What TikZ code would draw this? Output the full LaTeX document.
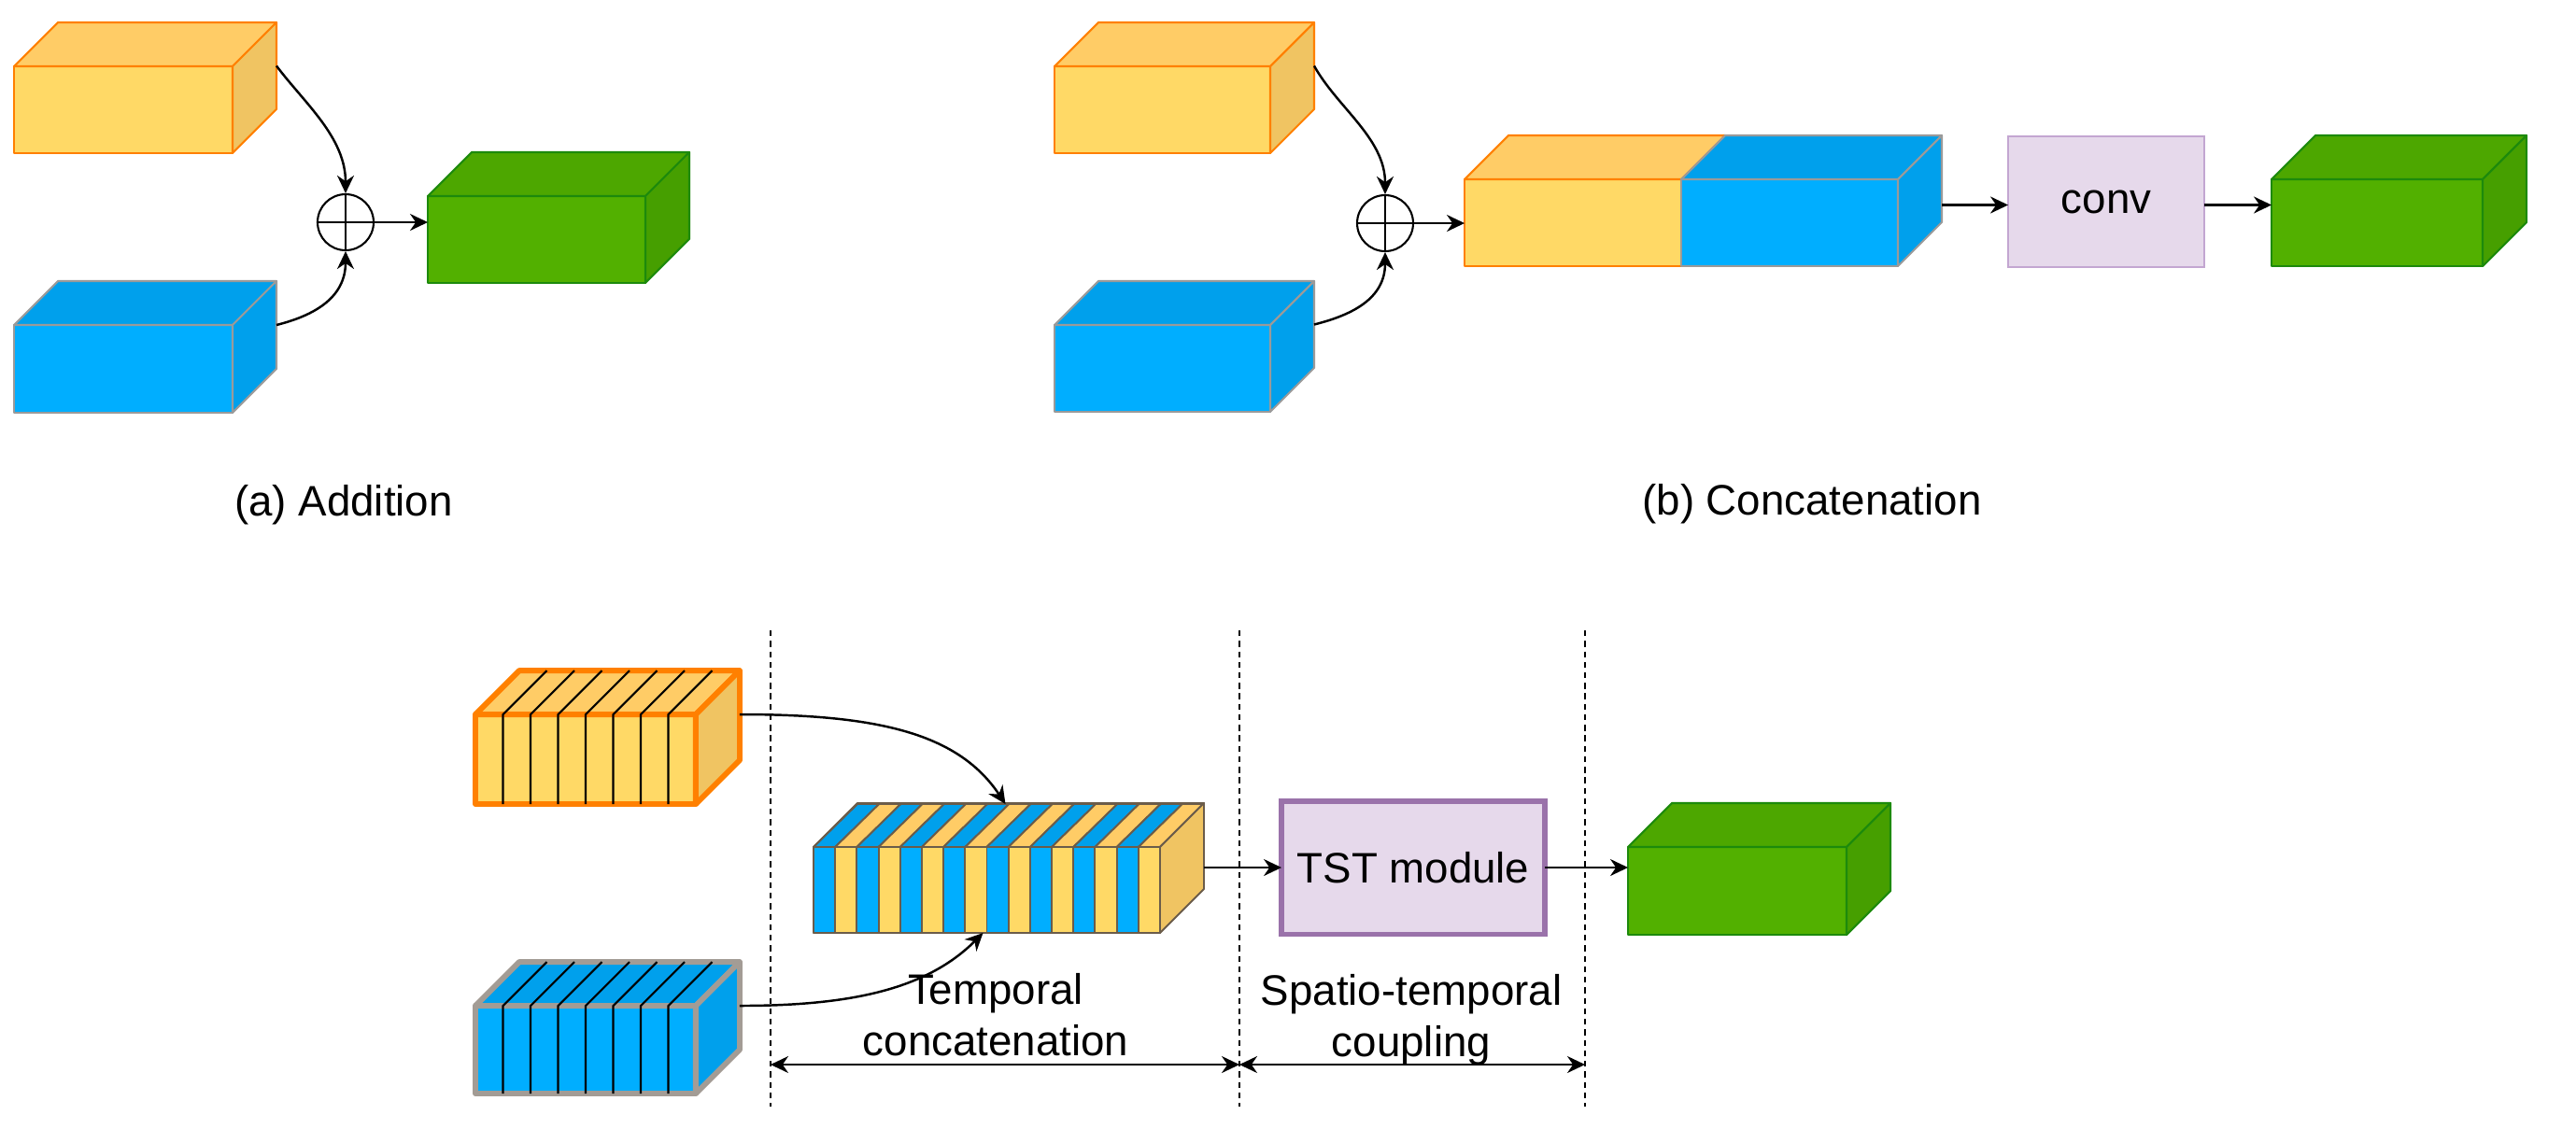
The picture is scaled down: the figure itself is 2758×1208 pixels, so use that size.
\documentclass[tikz,border=0pt]{standalone}
\usepackage{fontspec}
\setmainfont{Liberation Sans}
\usetikzlibrary{arrows.meta, positioning}
\definecolor{OrangeFront}{HTML}{FFD966}
\definecolor{OrangeTop}{HTML}{FFCC66}
\definecolor{OrangeSide}{HTML}{F0C462}
\definecolor{OrangeLine}{HTML}{FF8000}
\definecolor{BlueFront}{HTML}{00AEFF}
\definecolor{BlueTop}{HTML}{00A0EC}
\definecolor{BlueLine}{HTML}{9A9A9A}
\definecolor{GrayLine}{HTML}{A39C95}
\definecolor{GreenFront}{HTML}{52B000}
\definecolor{GreenTop}{HTML}{4DA700}
\definecolor{GreenSide}{HTML}{469F00}
\definecolor{GreenLine}{HTML}{1D8A0C}
\definecolor{PurpleFill}{HTML}{E6D9EB}
\definecolor{PurpleLight}{HTML}{C3A6D1}
\definecolor{PurpleLine}{HTML}{9A72AA}
\definecolor{MixLine}{HTML}{6B5C4A}
\tikzset{x=0.02cm, y=-0.02cm, >={Stealth[length=3.8mm, width=3.6mm]},
	facefront/.style={rectangle, inner sep=0pt, outer sep=0pt},
	orange edge/.style={draw=OrangeLine, line width=1.2pt, line join=round},
	blue edge/.style={draw=BlueLine, line width=1.2pt, line join=round},
	green edge/.style={draw=GreenLine, line width=1.2pt, line join=round},
	mix edge/.style={draw=MixLine, line width=1.1pt, line join=round},
	thick orange edge/.style={draw=OrangeLine, line width=3.4pt, line join=round},
	thick gray edge/.style={draw=GrayLine, line width=3.4pt, line join=round},
	textnode/.style={font=\fontsize{26}{31.3}\selectfont, align=center, inner sep=0pt}}
\newcommand{\cubetop}[3]{\draw[#3, fill=#2] (#1.north west) -- ++(47,-47) -- ([shift={(47,-47)}]#1.north east) -- (#1.north east) -- cycle;}
\newcommand{\cubeside}[3]{\draw[#3, fill=#2] (#1.north east) -- ++(47,-47) -- ([shift={(47,-47)}]#1.south east) -- (#1.south east) -- cycle;}

\begin{document}
\begin{tikzpicture}[link/.style={->, line width=1.4pt}, sep/.style={line width=1.2pt, dash pattern=on 3.6pt off 2.8pt}, stripe/.style={line width=1.2pt}]
	\useasboundingbox (0,0) rectangle (2758,1208);

	\node[facefront, orange edge, fill=OrangeFront, minimum width=4.68cm, minimum height=1.86cm] (OrangeA) at (132,117.5) {};
	\cubetop{OrangeA}{OrangeTop}{orange edge}
	\cubeside{OrangeA}{OrangeSide}{orange edge}
	\node[facefront, blue edge, fill=BlueFront, minimum width=4.68cm, minimum height=1.88cm] (BlueA) at (132,395) {};
	\cubetop{BlueA}{BlueTop}{blue edge}
	\cubeside{BlueA}{BlueTop}{blue edge}
	\node[circle, draw, line width=1.2pt, minimum size=1.2cm, inner sep=0pt] (SumA) at (370,238) {};
	\draw[line width=1.2pt] (SumA.north) -- (SumA.south) (SumA.west) -- (SumA.east);
	\node[facefront, green edge, fill=GreenFront, minimum width=4.66cm, minimum height=1.86cm] (GreenA) at (574.5,256.5) {};
	\cubetop{GreenA}{GreenTop}{green edge}
	\cubeside{GreenA}{GreenSide}{green edge}
	\draw[link] ([shift={(47,-47)}]OrangeA.east) .. controls +(30,40) and +(0,-60) .. (SumA.north);
	\draw[link] ([shift={(47,-47)}]BlueA.east) .. controls +(40,-10) and +(0,50) .. (SumA.south);
	\draw[link] (SumA.east) -- (SumA.east -| GreenA.west);
	\node[textnode, anchor=base] (CaptionA) at (368,552) {(a) Addition};

	\node[facefront, orange edge, fill=OrangeFront, minimum width=4.62cm, minimum height=1.86cm] (OrangeB) at (1244.5,117.5) {};
	\cubetop{OrangeB}{OrangeTop}{orange edge}
	\cubeside{OrangeB}{OrangeSide}{orange edge}
	\node[facefront, blue edge, fill=BlueFront, minimum width=4.62cm, minimum height=1.86cm] (BlueB) at (1244.5,394.5) {};
	\cubetop{BlueB}{BlueTop}{blue edge}
	\cubeside{BlueB}{BlueTop}{blue edge}
	\node[circle, draw, line width=1.2pt, minimum size=1.2cm, inner sep=0pt] (SumB) at (1483,239) {};
	\draw[line width=1.2pt] (SumB.north) -- (SumB.south) (SumB.west) -- (SumB.east);
	\node[facefront, orange edge, fill=OrangeFront, minimum width=4.64cm, minimum height=1.86cm] (OrangeCat) at (1684,238.5) {};
	\cubetop{OrangeCat}{OrangeTop}{orange edge}
	\node[facefront, blue edge, fill=BlueFront, minimum width=4.64cm, minimum height=1.86cm] (BlueCat) at (1916,238.5) {};
	\cubetop{BlueCat}{BlueTop}{blue edge}
	\cubeside{BlueCat}{BlueTop}{blue edge}
	\node[facefront, textnode, draw=PurpleLight, line width=1.1pt, fill=PurpleFill, minimum width=4.2cm, minimum height=2.8cm] (ConvB) at (2255,216) {conv};
	\node[facefront, green edge, fill=GreenFront, minimum width=4.52cm, minimum height=1.86cm] (GreenB) at (2545,238.5) {};
	\cubetop{GreenB}{GreenTop}{green edge}
	\cubeside{GreenB}{GreenSide}{green edge}
	\coordinate (CatOut) at ([shift={(47,-19)}]BlueCat.east);
	\draw[link] ([shift={(47,-47)}]OrangeB.east) .. controls +(25,45) and +(0,-60) .. (SumB.north);
	\draw[link] ([shift={(47,-47)}]BlueB.east) .. controls +(40,-10) and +(0,50) .. (SumB.south);
	\draw[link] (SumB.east) -- (SumB.east -| OrangeCat.west);
	\draw[link] (CatOut) -- (CatOut -| ConvB.west);
	\draw[link] (ConvB.east |- CatOut) -- (CatOut -| GreenB.west);
	\node[textnode, anchor=base] (CaptionB) at (1940,551) {(b) Concatenation};

	\node[facefront, thick orange edge, fill=OrangeFront, minimum width=4.72cm, minimum height=1.92cm] (OrangeC) at (627,813) {};
	\cubetop{OrangeC}{OrangeTop}{thick orange edge}
	\cubeside{OrangeC}{OrangeSide}{thick orange edge}
	\foreach \i in {1,...,7}
		\draw[stripe] ({509+29.5*\i},861) -- ++(0,-96) -- ++(47,-47);
	\node[facefront, thick gray edge, fill=BlueFront, minimum width=4.72cm, minimum height=1.88cm] (BlueC) at (627,1124) {};
	\cubetop{BlueC}{BlueTop}{thick gray edge}
	\cubeside{BlueC}{BlueTop}{thick gray edge}
	\foreach \i in {1,...,7}
		\draw[stripe] ({509+29.5*\i},1171) -- ++(0,-94) -- ++(47,-47);
	\foreach \i in {0,...,15}{
		\ifodd\i \def\stripeF{OrangeFront}\def\stripeT{OrangeTop}\else \def\stripeF{BlueFront}\def\stripeT{BlueTop}\fi
		\draw[mix edge, fill=\stripeT] ({871+23.1875*\i},907) -- ++(47,-46) -- ++(23.1875,0) -- ++(-47,46) -- cycle;
		\draw[mix edge, fill=\stripeF] ({871+23.1875*\i},907) rectangle ++(23.1875,92);
	}
	\node[facefront, mix edge, minimum width=7.42cm, minimum height=1.84cm] (Mixed) at (1056.5,953) {};
	\cubetop{Mixed}{none}{mix edge}
	\cubeside{Mixed}{OrangeSide}{mix edge}
	\node[facefront, textnode, draw=PurpleLine, line width=3.4pt, fill=PurpleFill, minimum width=5.64cm, minimum height=2.86cm] (TST) at (1513,929) {TST module};
	\node[facefront, green edge, fill=GreenFront, minimum width=4.68cm, minimum height=1.88cm] (GreenC) at (1860,954) {};
	\cubetop{GreenC}{GreenTop}{green edge}
	\cubeside{GreenC}{GreenSide}{green edge}
	\coordinate (MixOut) at ([shift={(47,-24)}]Mixed.east);
	\draw[link] ([shift={(47,0)}]OrangeC.north east) .. controls +(150,0) and +(-50,-75) .. ([shift={(20,-46)}]Mixed.north);
	\draw[link] ([shift={(47,0)}]BlueC.north east) .. controls +(120,0) and +(-60,60) .. ([shift={(-4,0)}]Mixed.south);
	\draw[link] (MixOut) -- (MixOut -| TST.west);
	\draw[link] (TST.east |- MixOut) -- (MixOut -| GreenC.west);

	\foreach \x/\n in {825/A, 1327/B, 1697/C}{
		\draw[sep] (\x,675) -- (\x,1185);
		\coordinate (Span\n) at (\x,1140);
	}
	\draw[<->, line width=1.4pt] (SpanA) -- (SpanB);
	\draw[<->, line width=1.4pt] (SpanB) -- (SpanC);
	\node[textnode] (TemporalText) at (1066,1087) {Temporal\\concatenation};
	\node[textnode] (CouplingText) at (1511,1092) {Spatio-temporal\\coupling};
\end{tikzpicture}
\end{document}
